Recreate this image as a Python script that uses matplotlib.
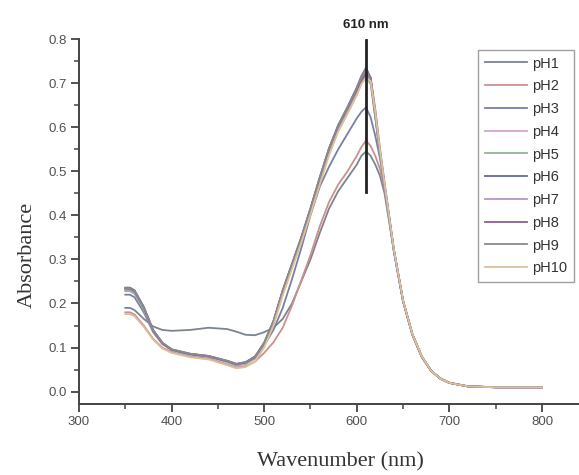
import matplotlib.pyplot as plt

# wavelength grid (nm), shared by all series
wl = [350, 355, 360, 370, 380, 390, 400, 420, 440, 460, 470, 480, 490, 500,
      510, 520, 530, 540, 550, 560, 570, 580, 590, 600, 605, 610, 615, 620,
      625, 630, 640, 650, 660, 670, 680, 690, 700, 720, 750, 800]

ph1 = [0.190, 0.190, 0.185, 0.165, 0.148, 0.140, 0.138, 0.140, 0.145, 0.142, 0.136, 0.129, 0.128, 0.135,
       0.145, 0.165, 0.200, 0.250, 0.300, 0.360, 0.415, 0.455, 0.485, 0.515, 0.535, 0.545, 0.535, 0.515,
       0.490, 0.450, 0.320, 0.205, 0.130, 0.080, 0.048, 0.030, 0.020, 0.012, 0.010, 0.010]
ph2 = [0.180, 0.180, 0.175, 0.150, 0.120, 0.100, 0.090, 0.080, 0.075, 0.062, 0.055, 0.058, 0.068, 0.088,
       0.112, 0.145, 0.195, 0.252, 0.310, 0.375, 0.430, 0.470, 0.500, 0.535, 0.555, 0.570, 0.557, 0.535,
       0.505, 0.460, 0.322, 0.206, 0.130, 0.080, 0.048, 0.030, 0.020, 0.012, 0.010, 0.010]
ph3 = [0.220, 0.220, 0.214, 0.180, 0.135, 0.108, 0.095, 0.085, 0.080, 0.069, 0.062, 0.066, 0.080, 0.105,
       0.140, 0.190, 0.255, 0.325, 0.400, 0.465, 0.510, 0.550, 0.585, 0.620, 0.635, 0.645, 0.622, 0.580,
       0.530, 0.465, 0.322, 0.206, 0.130, 0.080, 0.048, 0.030, 0.020, 0.012, 0.010, 0.010]
ph4 = [0.230, 0.230, 0.224, 0.188, 0.138, 0.110, 0.095, 0.085, 0.080, 0.068, 0.060, 0.064, 0.076, 0.107,
       0.156, 0.225, 0.285, 0.345, 0.410, 0.478, 0.545, 0.598, 0.638, 0.680, 0.706, 0.722, 0.700, 0.622,
       0.540, 0.466, 0.320, 0.205, 0.130, 0.080, 0.048, 0.030, 0.020, 0.012, 0.010, 0.010]
ph5 = [0.228, 0.228, 0.222, 0.186, 0.137, 0.109, 0.094, 0.084, 0.079, 0.067, 0.059, 0.063, 0.075, 0.106,
       0.154, 0.222, 0.282, 0.342, 0.406, 0.474, 0.540, 0.594, 0.634, 0.675, 0.700, 0.715, 0.697, 0.622,
       0.540, 0.466, 0.320, 0.205, 0.130, 0.080, 0.048, 0.030, 0.020, 0.012, 0.010, 0.010]
ph6 = [0.236, 0.236, 0.230, 0.192, 0.140, 0.111, 0.096, 0.086, 0.081, 0.070, 0.063, 0.067, 0.079, 0.111,
       0.160, 0.230, 0.290, 0.350, 0.416, 0.486, 0.552, 0.605, 0.646, 0.690, 0.716, 0.735, 0.712, 0.628,
       0.542, 0.467, 0.321, 0.205, 0.130, 0.080, 0.048, 0.030, 0.020, 0.012, 0.010, 0.010]
ph7 = [0.232, 0.232, 0.226, 0.190, 0.139, 0.110, 0.095, 0.085, 0.080, 0.069, 0.061, 0.065, 0.077, 0.109,
       0.158, 0.227, 0.287, 0.347, 0.413, 0.482, 0.548, 0.601, 0.641, 0.684, 0.710, 0.727, 0.706, 0.625,
       0.541, 0.466, 0.320, 0.205, 0.130, 0.080, 0.048, 0.030, 0.020, 0.012, 0.010, 0.010]
ph8 = [0.234, 0.234, 0.228, 0.191, 0.139, 0.110, 0.095, 0.085, 0.080, 0.069, 0.062, 0.066, 0.078, 0.110,
       0.159, 0.228, 0.288, 0.348, 0.414, 0.484, 0.550, 0.603, 0.643, 0.684, 0.706, 0.722, 0.712, 0.640,
       0.552, 0.474, 0.324, 0.207, 0.131, 0.081, 0.048, 0.030, 0.020, 0.012, 0.010, 0.010]
ph9 = [0.235, 0.235, 0.229, 0.191, 0.140, 0.111, 0.096, 0.086, 0.081, 0.070, 0.063, 0.067, 0.079, 0.111,
       0.160, 0.229, 0.289, 0.349, 0.415, 0.485, 0.551, 0.604, 0.645, 0.688, 0.714, 0.731, 0.709, 0.626,
       0.541, 0.466, 0.320, 0.205, 0.130, 0.080, 0.048, 0.030, 0.020, 0.012, 0.010, 0.010]
ph10 = [0.176, 0.176, 0.171, 0.147, 0.118, 0.098, 0.088, 0.078, 0.073, 0.060, 0.053, 0.056, 0.068, 0.100,
        0.150, 0.218, 0.278, 0.338, 0.402, 0.470, 0.536, 0.590, 0.630, 0.672, 0.698, 0.712, 0.704, 0.635,
        0.550, 0.472, 0.323, 0.207, 0.131, 0.081, 0.048, 0.030, 0.020, 0.012, 0.010, 0.010]

series = [ph1, ph2, ph3, ph4, ph5, ph6, ph7, ph8, ph9, ph10]
labels = ["pH1", "pH2", "pH3", "pH4", "pH5", "pH6", "pH7", "pH8", "pH9", "pH10"]
colors = ["#7c8490", "#c99090", "#7a7fa6", "#d7a2d7", "#93b39c",
          "#676b96", "#b793c9", "#8d5f8d", "#8a8a8a", "#d9c29c"]

peak_nm = 610

fig = plt.figure(figsize=(5.79, 4.75), dpi=100)
ax = fig.add_axes([79 / 579, 71 / 475, 500 / 579, 365 / 475])

for y, lab, c in zip(series, labels, colors):
    ax.plot(wl, y, color=c, lw=1.3, label=lab)

ax.plot([peak_nm, peak_nm], [0.452, 0.797], color="#222222", lw=2.0)
ax.text(peak_nm, 0.832, f"{peak_nm} nm", ha="center", va="center",
        fontsize=9.5, fontweight="bold", family="Liberation Sans", color="#222222")

ax.set_xlim(300, 840)
ax.set_ylim(-0.028, 0.8)
ax.set_xticks([300, 400, 500, 600, 700, 800])
ax.set_xticks([350, 450, 550, 650, 750], minor=True)
ax.set_yticks([0.0, 0.1, 0.2, 0.3, 0.4, 0.5, 0.6, 0.7, 0.8])
ax.set_yticks([0.05, 0.15, 0.25, 0.35, 0.45, 0.55, 0.65, 0.75], minor=True)
ax.set_yticklabels([f"{v:.1f}" for v in ax.get_yticks()])

for s in ["top", "right"]:
    ax.spines[s].set_visible(False)
for s in ["left", "bottom"]:
    ax.spines[s].set_color("#444444")
    ax.spines[s].set_linewidth(1.4)

ax.tick_params(which="major", direction="out", length=6, width=1.3, color="#444444",
               labelsize=9.5, labelcolor="#505050", pad=2.5)
ax.tick_params(which="minor", direction="out", length=3.5, width=1.1, color="#444444")
for t in ax.get_xticklabels() + ax.get_yticklabels():
    t.set_family("Liberation Sans")

ax.set_xlabel("Wavenumber (nm)", family="Liberation Serif", fontsize=16,
              color="#333333")
ax.set_ylabel("Absorbance", family="Liberation Serif", fontsize=16,
              color="#333333")
ax.xaxis.set_label_coords((340 - 79) / 500, (404 - 462) / 365)
ax.yaxis.set_label_coords((27 - 79) / 500, (404 - 255) / 365)
ax.xaxis.label.set_va("center")
ax.yaxis.label.set_va("center")

leg = ax.legend(loc="upper left", bbox_to_anchor=(0.798, 0.97), frameon=True,
                fancybox=False, edgecolor="#888888",
                prop={"family": "Liberation Sans", "size": 10.5},
                handlelength=2.9, handletextpad=0.35, labelspacing=0.6,
                borderpad=0.45, borderaxespad=0)
leg.get_frame().set_linewidth(1.0)
for t in leg.get_texts():
    t.set_color("#333333")

fig.savefig("out.png", dpi=100)
